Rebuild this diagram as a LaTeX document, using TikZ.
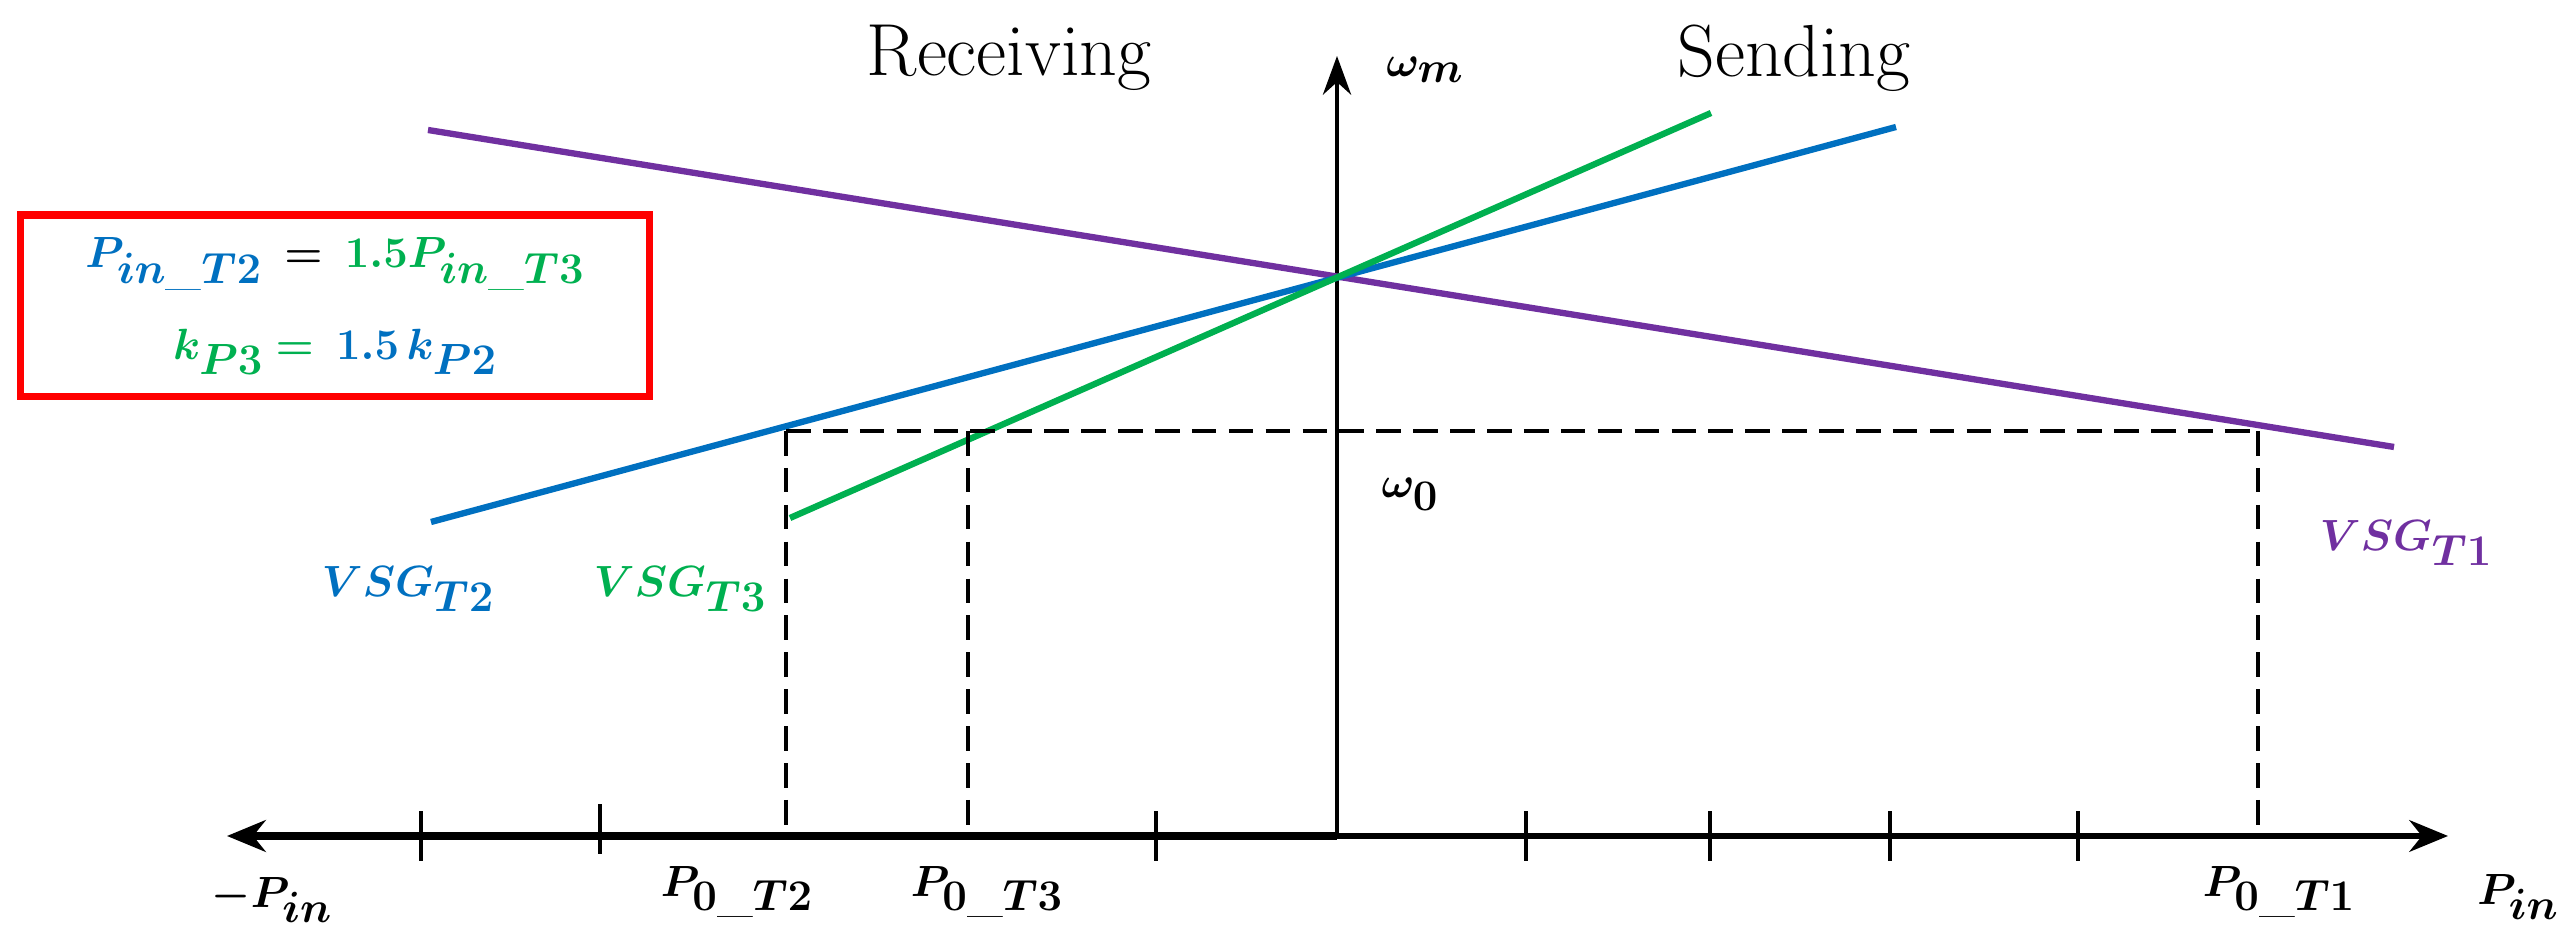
\documentclass[tikz,border=0pt]{standalone}
\usepackage{amsmath,bm}
\usetikzlibrary{arrows.meta}
\definecolor{vsgblue}{HTML}{0070C0}
\definecolor{vsggreen}{HTML}{00B050}
\definecolor{vsgpurple}{HTML}{7030A0}
\tikzset{
  lbl/.style={font=\fontsize{42}{50}\selectfont, inner sep=0pt},
  droop/.style={line width=3.6pt},
  guide/.style={black, line width=2.4pt, dash pattern=on 14pt off 7pt},
  tick/.style={line width=2.4pt}
}
\begin{document}
\begin{tikzpicture}[x=0.02cm, y=0.02cm]
        \useasboundingbox (0, 0) rectangle (2567, 952);
        % axes
        \coordinate (O) at (1337, 116);
        \coordinate (L) at (227, 116);
        \coordinate (R) at (2448, 116);
        \coordinate (T) at (1337, 896);
        \draw[line width=4.4pt, {Stealth[length=22pt, width=18pt]}-] (L) -- (O);
        \draw[line width=3pt, -{Stealth[length=22pt, width=18pt]}] (O) -- (R);
        \draw[line width=2.6pt, -{Stealth[length=22pt, width=16pt]}] (O) -- (T);
        \foreach \x in {421, 1156, 1526, 1710, 1890, 2078} {
            \draw[tick] (\x, 91) -- (\x, 141);
        }
        \draw[tick] (600, 98) -- (600, 148);
        % droop lines
        \coordinate (C) at (1337, 674);
        \draw[droop, vsgpurple] (428, 822) -- (2394, 505);
        \draw[droop, vsgblue] (431, 430) -- (1896, 825);
        \draw[droop, vsggreen] (790, 434) -- (1711, 839);
        % operating points
        \coordinate (A2) at (786, 521);
        \coordinate (A3) at (968, 521);
        \coordinate (A1) at (2258, 521);
        \draw[guide] (A2) -- (A1);
        \draw[guide] (A2) -- (786, 116);
        \draw[guide] (A3) -- (968, 116);
        \draw[guide] (A1) -- (2258, 116);
        % labels
        \node[lbl] (recv) at (1009, 894) {Receiving};
        \node[lbl] (send) at (1794, 894) {Sending};
        \node[lbl] (wm) at (1425, 882) {$\bm{\omega_m}$};
        \node[lbl] (w0) at (1410, 458) {$\bm{\omega_0}$};
        \node[lbl, vsgblue] (vsg2) at (408, 363) {$\bm{VSG_{T2}}$};
        \node[lbl, vsggreen] (vsg3) at (680, 363) {$\bm{VSG_{T3}}$};
        \node[lbl, vsgpurple] (vsg1) at (2406, 409) {$\bm{VSG_{T1}}$};
        \node[lbl] (mpin) at (272, 52) {$\bm{-P_{in}}$};
        \node[lbl] (p2) at (737, 60) {$\bm{P_{0\_T2}}$};
        \node[lbl] (p3) at (987, 60) {$\bm{P_{0\_T3}}$};
        \node[lbl] (p1) at (2279, 60) {$\bm{P_{0\_T1}}$};
        \node[lbl] (pin) at (2518, 55) {$\bm{P_{in}}$};
        \node[lbl, draw=red, line width=4pt, minimum width=12.6cm, minimum height=3.64cm, align=center] (eq) at (335, 646)
            {{\color{vsgblue}$\bm{P_{in\_T2}}$} $\bm{=}$ {\color{vsggreen}$\bm{1.5P_{in\_T3}}$}\\[2pt]
             {\color{vsggreen}$\bm{k_{P3}=}$} {\color{vsgblue}$\bm{1.5\,k_{P2}}$}};
\end{tikzpicture}
\end{document}
